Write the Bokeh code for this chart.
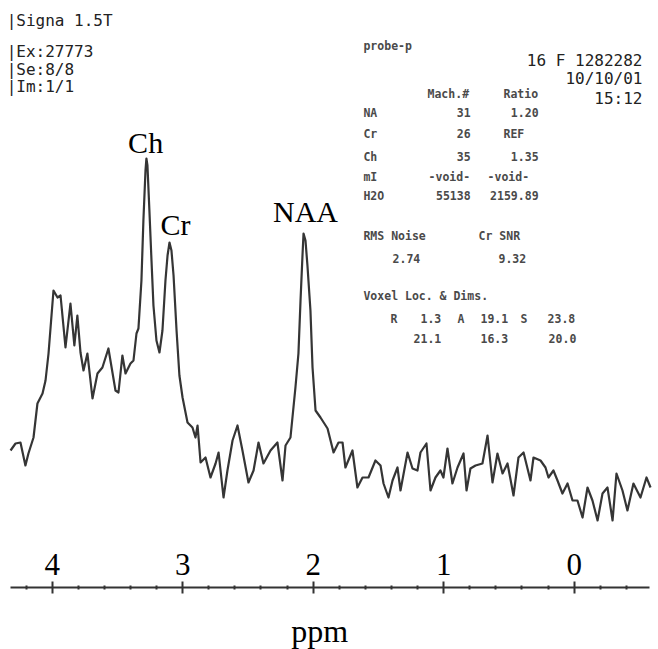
from bokeh.plotting import figure
from bokeh.models import Range1d, Label, FixedTicker
from bokeh.layouts import column
from bokeh.embed import file_html
from bokeh.resources import INLINE

# ---- spectrum (chemical shift in ppm, signal intensity in arbitrary units) ----
ppm = [4.319, 4.281, 4.243, 4.205, 4.182, 4.143, 4.113, 4.074, 4.051, 4.028,
       3.990, 3.959, 3.936, 3.898, 3.860, 3.830, 3.807, 3.783, 3.760, 3.730,
       3.691, 3.653, 3.615, 3.569, 3.515, 3.492, 3.462, 3.438, 3.400, 3.377,
       3.354, 3.339, 3.316, 3.301, 3.285, 3.278, 3.270, 3.255, 3.239, 3.224,
       3.201, 3.178, 3.155, 3.132, 3.116, 3.101, 3.086, 3.070, 3.047, 3.025,
       3.001, 2.963, 2.925, 2.902, 2.886, 2.863, 2.825, 2.787, 2.748, 2.725,
       2.687, 2.657, 2.618, 2.580, 2.542, 2.496, 2.457, 2.419, 2.381, 2.327,
       2.274, 2.235, 2.212, 2.174, 2.136, 2.113, 2.097, 2.082, 2.074, 2.059,
       2.044, 2.021, 2.005, 1.982, 1.944, 1.890, 1.844, 1.806, 1.775, 1.753,
       1.699, 1.661, 1.622, 1.576, 1.523, 1.484, 1.461, 1.423, 1.392, 1.354,
       1.331, 1.277, 1.239, 1.201, 1.178, 1.132, 1.101, 1.063, 1.025, 1.002,
       0.971, 0.933, 0.894, 0.848, 0.825, 0.795, 0.756, 0.703, 0.664, 0.626,
       0.588, 0.549, 0.511, 0.465, 0.427, 0.388, 0.335, 0.312, 0.258, 0.220,
       0.197, 0.159, 0.128, 0.090, 0.051, 0.013, -0.025, -0.064, -0.102, -0.140,
       -0.179, -0.217, -0.255, -0.294, -0.324, -0.370, -0.408, -0.454, -0.508, -0.554,
       -0.585]
intensity = [140, 147, 148, 125, 137, 153, 187, 197, 210, 237,
             300, 293, 295, 243, 287, 245, 275, 238, 220, 237,
             192, 217, 223, 242, 200, 198, 235, 217, 227, 230,
             257, 262, 310, 370, 420, 432, 425, 380, 330, 285,
             250, 238, 260, 310, 335, 348, 340, 315, 260, 215,
             193, 168, 163, 153, 165, 128, 133, 113, 127, 138,
             93, 120, 150, 165, 140, 108, 120, 148, 127, 140,
             148, 110, 145, 153, 203, 237, 290, 335, 357, 350,
             325, 280, 223, 180, 173, 162, 138, 148, 148, 123,
             140, 103, 113, 113, 130, 125, 107, 93, 110, 123,
             100, 138, 122, 120, 138, 147, 100, 113, 120, 113,
             142, 107, 123, 137, 100, 122, 125, 127, 155, 108,
             137, 117, 127, 95, 133, 138, 110, 133, 130, 123,
             113, 120, 110, 97, 107, 90, 90, 73, 103, 90,
             70, 97, 103, 70, 117, 100, 80, 107, 93, 113,
             103]

# ---- axis ----
tick_values = [4, 3, 2, 1, 0]
tick_labels = ["4", "3", "2", "1", "0"]
minor_tick_values = [4.2, 3.8, 3.6, 3.4, 3.2, 2.8, 2.6, 2.4, 2.2, 1.8, 1.6, 1.4,
                     1.2, 0.8, 0.6, 0.4, 0.2, -0.2, -0.4]
axis_title = "ppm"

# ---- peak annotations ----
peak_names = ["Ch", "Cr", "NAA"]
peak_label_ppm = [3.284, 3.055, 2.059]
peak_label_int = [448, 366, 379]

# ---- scanner header texts ----
left_header = ["|Signa 1.5T", "|Ex:27773", "|Se:8/8", "|Im:1/1"]
right_header = ["16 F 1282282", "10/10/01", "15:12"]

# ---- metabolite table texts ----
probe_name = "probe-p"
table_cols = ["Mach.#", "Ratio"]
table_rows = ["NA", "Cr", "Ch", "mI", "H2O"]
table_mach = ["31", "26", "35", "-void-", "55138"]
table_ratio = ["1.20", "REF", "1.35", "-void-", "2159.89"]
noise_heads = ["RMS Noise", "Cr SNR"]
noise_vals = ["2.74", "9.32"]
voxel_head = "Voxel Loc. & Dims."
voxel_loc = ["R", "1.3", "A", "19.1", "S", "23.8"]
voxel_dim = ["21.1", "16.3", "20.0"]

# ---------------- layout ----------------
W = 658
HA = 530
HB = 649 - HA
x_range = Range1d(4.396, -0.646)

SERIF = "Liberation Serif"
MONO = "DejaVu Sans Mono"

pA = figure(width=W, height=HA, x_range=x_range, y_range=Range1d(590 - HA, 590),
            output_backend="svg", toolbar_location=None,
            x_axis_location=None, y_axis_location=None, min_border=0)
pA.outline_line_color = None
pA.grid.grid_line_color = None
pA.background_fill_color = "white"

pA.line(ppm, intensity, line_width=2.2, line_color="#353535", line_join="round")


def lab(p, x, y, text, font, size, align="left", color="#222222", style="normal"):
    p.add_layout(Label(x=x, y=y, text=text, text_font=font, text_font_size=size,
                       text_align=align, text_baseline="alphabetic",
                       text_color=color, text_font_style=style))


# peak labels
for name, px, py in zip(peak_names, peak_label_ppm, peak_label_int):
    lab(pA, px, py, name, SERIF, "30px", align="center", color="black")

# left header
for t, y in zip(left_header, [570, 539, 521, 504]):
    lab(pA, 4.349, y, t, MONO, "16px")

# right header
for t, y in zip(right_header, [530, 512, 492]):
    lab(pA, -0.523, y, t, MONO, "16px", align="right")

# table
TS = "11.5px"
TC = "#4a4a4a"
dy = 4
lab(pA, 1.615, 541 + dy, probe_name, MONO, TS, color=TC, style="bold")
lab(pA, 1.124, 493 + dy, table_cols[0], MONO, TS, color=TC, style="bold")
lab(pA, 0.542, 493 + dy, table_cols[1], MONO, TS, color=TC, style="bold")
for r, m, q, y in zip(table_rows, table_mach, table_ratio, [474, 453, 430, 410, 391]):
    y = y + dy
    lab(pA, 1.615, y, r, MONO, TS, color=TC, style="bold")
    if m.startswith("-"):
        lab(pA, 1.116, y, m, MONO, TS, color=TC, style="bold")
    else:
        lab(pA, 0.794, y, m, MONO, TS, align="right", color=TC, style="bold")
    if q[0].isdigit():
        lab(pA, 0.273, y, q, MONO, TS, align="right", color=TC, style="bold")
    else:
        lab(pA, 0.664 if q.startswith("-") else 0.542, y, q, MONO, TS, color=TC, style="bold")
lab(pA, 1.615, 351 + dy, noise_heads[0], MONO, TS, color=TC, style="bold")
lab(pA, 0.733, 351 + dy, noise_heads[1], MONO, TS, color=TC, style="bold")
lab(pA, 1.392, 328 + dy, noise_vals[0], MONO, TS, color=TC, style="bold")
lab(pA, 0.580, 328 + dy, noise_vals[1], MONO, TS, color=TC, style="bold")
lab(pA, 1.615, 291 + dy, voxel_head, MONO, TS, color=TC, style="bold")
for t, x in zip(voxel_loc, [1.408, 1.178, 0.894, 0.718, 0.411, 0.204]):
    lab(pA, x, 268 + dy, t, MONO, TS, color=TC, style="bold")
for t, x in zip(voxel_dim, [1.231, 0.718, 0.196]):
    lab(pA, x, 248 + dy, t, MONO, TS, color=TC, style="bold")

# ---- axis figure ----
pB = figure(width=W, height=HB, x_range=x_range, y_range=Range1d(0, 1),
            output_backend="svg", toolbar_location=None,
            x_axis_location="above", y_axis_location=None,
            min_border=0, min_border_top=57)
pB.outline_line_color = None
pB.grid.grid_line_color = None
ax = pB.xaxis[0]
ax.ticker = FixedTicker(ticks=tick_values, minor_ticks=minor_tick_values)
ax.major_label_overrides = {v: s for v, s in zip(tick_values, tick_labels)}
ax.bounds = (-0.577, 4.32)
ax.major_label_text_font = SERIF
ax.major_label_text_font_size = "31px"
ax.major_label_text_color = "black"
ax.major_label_standoff = 7
ax.axis_line_width = 2
ax.axis_line_color = "#333333"
ax.major_tick_in = 6
ax.major_tick_out = 6
ax.major_tick_line_width = 2
ax.major_tick_line_color = "#333333"
ax.minor_tick_in = 2
ax.minor_tick_out = 2
ax.minor_tick_line_width = 2
ax.minor_tick_line_color = "#333333"

lab(pB, 1.951, 0.30, axis_title, SERIF, "32px", align="center", color="black")

layout = column(pA, pB)
open("out.html", "w").write(file_html(layout, INLINE))
